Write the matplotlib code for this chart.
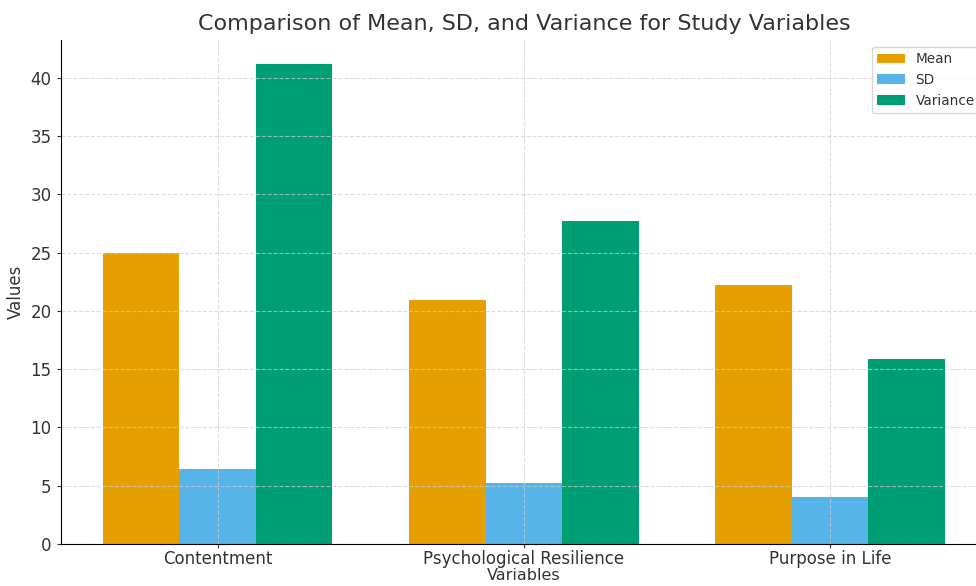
import matplotlib
matplotlib.use("Agg")
import matplotlib.pyplot as plt
import numpy as np

categories = ["Contentment", "Psychological Resilience", "Purpose in Life"]
mean_vals = [25.0, 20.9, 22.2]
sd_vals = [6.42, 5.26, 3.99]
var_vals = [41.2, 27.7, 15.9]
series_names = ["Mean", "SD", "Variance"]
colors = ["#E69F00", "#56B4E9", "#009E73"]

txt = "#333333"
fig = plt.figure(figsize=(9.76, 5.86), dpi=100)
ax = fig.add_axes([0.0622, 0.072, 0.949, 0.860])

x = np.arange(len(categories))
w = 0.25
for i, (vals, name, c) in enumerate(zip([mean_vals, sd_vals, var_vals], series_names, colors)):
    ax.bar(x + (i - 1) * w, vals, w, label=name, color=c)

ax.set_xticks(x)
ax.set_xticklabels(categories)
ax.tick_params(axis="both", labelsize=12, colors=txt, length=3)
ax.tick_params(axis="x", pad=1.5)
ax.set_xlabel("Variables", fontsize=11.5, color=txt, labelpad=0)
ax.set_ylabel("Values", fontsize=12, color=txt)
ax.set_title("Comparison of Mean, SD, and Variance for Study Variables",
             fontsize=16, color=txt, pad=7)
ax.grid(True, linestyle="--", color="#cccccc", alpha=0.7)
for s in ["top", "right"]:
    ax.spines[s].set_visible(False)
ax.legend(loc="upper right", fontsize=9.8, labelcolor=txt)

fig.savefig("out.png", dpi=100)
